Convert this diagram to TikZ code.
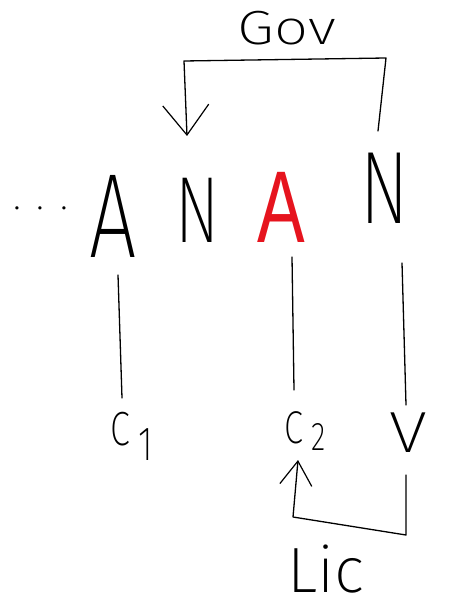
\documentclass[tikz,border=0pt]{standalone}
\usepackage{fontspec}
\setmainfont{Liberation Sans}
\newfontfamily\thinf{Fira Sans ExtraLight}
\usetikzlibrary{arrows.meta,calc}
\definecolor{hred}{RGB}{230,20,30}
\tikzset{
  word/.style={inner sep=0pt, outer sep=0pt, xscale=0.7, font=\thinf\fontsize{#1}{#1}\selectfont},
  lbl/.style={inner sep=0pt, outer sep=0pt, font=\thinf\fontsize{#1}{#1}\selectfont},
  pen/.style={line width=1.3pt, line cap=round, line join=round},
  bigbarb/.style={-{Straight Barb[length=30pt,width=46pt,line width=1.2pt]}},
  smallbarb/.style={-{Straight Barb[length=24pt,width=32pt,line width=1.2pt]}}
}
\begin{document}
\begin{tikzpicture}[x=1pt,y=-1pt]
\useasboundingbox (0,0) rectangle (475,609);
% row of words
\node[lbl=40, anchor=base west] (dots) at (13,210) {\addfontfeature{LetterSpace=40}...};
\node[word=120, anchor=base] (A1) at (113.5,258) {A};
\node[word=94, anchor=base] (N1) at (198,242) {N};
\node[word=102, anchor=base, text=hred, font=\fontsize{102}{102}\selectfont] (A2) at (281,243) {A};
\node[word=103, anchor=base] (N2) at (385,224) {N};
% labels
\node[lbl=48, anchor=base, xscale=1.25] (Gov) at (287,45) {Gov};
\node[lbl=48, anchor=base west, xscale=0.75] (C1) at (110,445) {C\hspace{12pt}\raisebox{-15pt}{1}};
\node[lbl=46, anchor=base west, xscale=0.75] (C2) at (284,443) {C\hspace{12pt}\raisebox{-7pt}{\fontsize{40}{40}\selectfont 2}};
\node[lbl=58, anchor=base, xscale=1.2] (V) at (408,452) {V};
\node[lbl=64, anchor=base west] (Lic) at (287,592) {Lic};
% vertical connectors
\draw[pen] ($(A1.base)+(4.5,17)$) -- ($(C1.base west)+(12,-47)$);
\draw[pen] ($(A2.base)+(11,14)$) -- ($(C2.base west)+(10,-53)$);
\draw[pen] ($(N2.base)+(17,39)$) -- ($(V.base)+(-2,-47)$);
% Gov bracket
\draw[pen, bigbarb] ($(N2.base)+(-7,-93)$) -- ++(8,-73) -- ++(-202,3)
  -- ($(N1.base)+(-11,-106)$);
% Lic bracket
\draw[pen, smallbarb] ($(V.base)+(-2,23)$) -- ++(0,60) -- ++(-113,-18)
  -- ($(C2.base west)+(14,17)$);
\end{tikzpicture}
\end{document}
